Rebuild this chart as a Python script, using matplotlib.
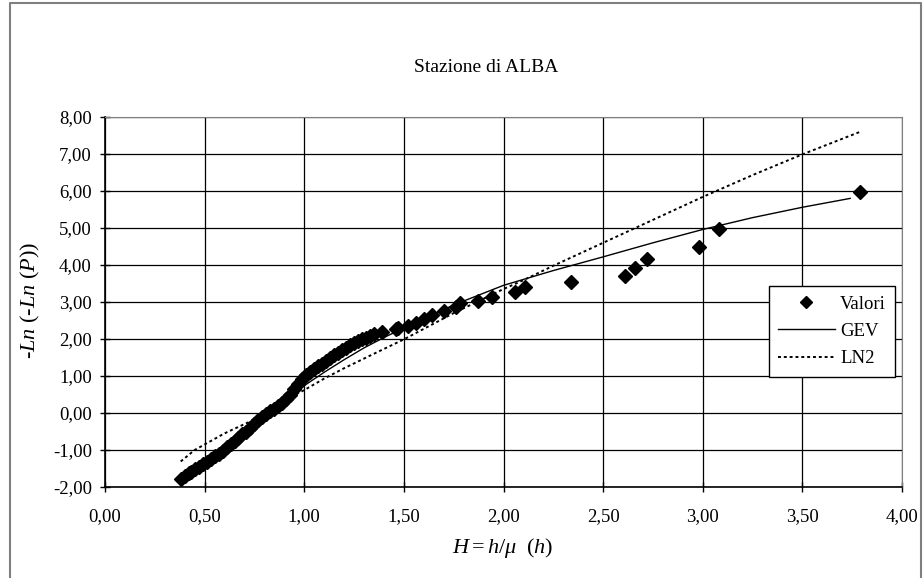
import numpy as np
import matplotlib
matplotlib.use("Agg")
import matplotlib.pyplot as plt
from matplotlib.ticker import FuncFormatter, MultipleLocator
from matplotlib.lines import Line2D

plt.rcParams['font.family'] = ['Liberation Serif', 'DejaVu Serif']
plt.rcParams['mathtext.fontset'] = 'custom'
plt.rcParams['mathtext.rm'] = 'Liberation Serif'
plt.rcParams['mathtext.it'] = 'Liberation Serif:italic'

# observed values (H = h/mu, -Ln(-Ln(P)))
valori_x = [0.38, 0.40, 0.42, 0.43, 0.45, 0.47, 0.49, 0.51, 0.53, 0.55,
            0.57, 0.59, 0.61, 0.63, 0.65, 0.67, 0.69, 0.71, 0.73, 0.75,
            0.77, 0.79, 0.81, 0.83, 0.85, 0.87, 0.89, 0.91, 0.93, 0.95,
            0.97, 0.99, 1.01, 1.03, 1.05, 1.07, 1.09, 1.11, 1.13, 1.15,
            1.17, 1.19, 1.21, 1.23, 1.25, 1.27, 1.29, 1.31, 1.33, 1.35,
            1.39, 1.46, 1.47, 1.52, 1.56, 1.60, 1.64, 1.70, 1.76, 1.78,
            1.87, 1.94, 2.06, 2.11, 2.34, 2.61, 2.66, 2.72, 2.98, 3.08, 3.79]
valori_y = [-1.79, -1.70, -1.62, -1.59, -1.52, -1.45, -1.38, -1.32, -1.25, -1.17,
            -1.10, -1.02, -0.93, -0.84, -0.76, -0.67, -0.58, -0.50, -0.40, -0.30,
            -0.20, -0.11, -0.04, 0.05, 0.12, 0.19, 0.27, 0.37, 0.50, 0.64,
            0.79, 0.93, 1.03, 1.10, 1.18, 1.26, 1.33, 1.41, 1.48, 1.56,
            1.62, 1.69, 1.77, 1.83, 1.89, 1.95, 2.00, 2.04, 2.09, 2.13,
            2.20, 2.26, 2.30, 2.36, 2.44, 2.55, 2.64, 2.77, 2.87, 2.96,
            3.04, 3.13, 3.27, 3.40, 3.54, 3.71, 3.91, 4.15, 4.50, 4.96, 5.97]

# GEV fitted curve
gev_x = [0.38, 0.50, 0.60, 0.70, 0.80, 0.90, 1.00, 1.10, 1.20, 1.30,
         1.40, 1.50, 1.75, 2.00, 2.25, 2.50, 2.75, 3.00, 3.25, 3.50, 3.74]
gev_y = [-1.78, -1.38, -0.98, -0.56, -0.12, 0.32, 0.74, 1.10, 1.44, 1.76,
         2.04, 2.30, 2.92, 3.45, 3.85, 4.22, 4.60, 4.96, 5.28, 5.56, 5.80]

# LN2 fitted curve
ln2_x = [0.38, 0.45, 0.60, 0.78, 0.95, 1.00, 1.10, 1.20, 1.38, 1.50,
         1.75, 2.00, 2.10, 2.25, 2.50, 2.75, 3.00, 3.25, 3.50, 3.79]
ln2_y = [-1.31, -1.00, -0.55, -0.10, 0.48, 0.62, 0.93, 1.21, 1.68, 1.99,
         2.70, 3.35, 3.59, 3.98, 4.60, 5.22, 5.84, 6.43, 6.99, 7.60]

fig = plt.figure(figsize=(9.23, 5.78), dpi=100)
ax = fig.add_axes([105/923, 91/578, 797/923, 370/578])

ax.plot(gev_x, gev_y, color='black', lw=1.0, label='GEV', zorder=3)
ax.plot(ln2_x, ln2_y, color='black', lw=1.4, linestyle=(0, (1.5, 1.5)), label='LN2', zorder=3)
ax.plot(valori_x, valori_y, linestyle='none', marker='D', ms=7.5, color='black', label='Valori', zorder=4)

ax.set_xlim(0, 4)
ax.set_ylim(-2, 8)
ax.xaxis.set_major_locator(MultipleLocator(0.5))
ax.yaxis.set_major_locator(MultipleLocator(1))
comma = FuncFormatter(lambda v, p: ('%.2f' % v).replace('.', ','))
ax.xaxis.set_major_formatter(comma)
ax.yaxis.set_major_formatter(comma)
ax.grid(True, color='black', lw=0.9)
ax.tick_params(direction='inout', length=7, width=1, labelsize=13.5, pad=6)
ax.tick_params(axis='x', pad=12)
for s in ['top', 'right']:
    ax.spines[s].set_color('#808080')
for s in ['left', 'bottom']:
    ax.spines[s].set_linewidth(1.2)

fig.text(486/923, 1 - 68/578, 'Stazione di ALBA', ha='center', va='center', fontsize=14)
fig.text(503/923, 1 - 548/578, r'$H = h/\mu\ \ (h)$', ha='center', va='center', fontsize=16)
fig.text(30/923, 1 - 300/578, r'-$Ln$ (-$Ln$ ($P$))', ha='center', va='center',
         rotation=90, fontsize=16)

handles = [Line2D([], [], linestyle='none', marker='D', ms=6.5, color='black'),
           Line2D([], [], color='black', lw=1.0),
           Line2D([], [], color='black', lw=1.4, linestyle=(0, (1.5, 1.5)))]
leg = ax.legend(handles, ['Valori', 'GEV', 'LN2'], loc='upper left',
                bbox_to_anchor=(0.833, 0.543), borderaxespad=0, fontsize=13.5,
                handlelength=3, fancybox=False, framealpha=1, edgecolor='black',
                borderpad=0.5, labelspacing=0.55, handletextpad=0.3)
leg.get_frame().set_linewidth(1.0)

# outer chart frame
fig.add_artist(Line2D([10/923, 10/923, 921/923, 921/923], [0, 1 - 3/578, 1 - 3/578, 0],
                      transform=fig.transFigure, color='#808080', lw=1.5))

fig.savefig('out.png', dpi=100)
